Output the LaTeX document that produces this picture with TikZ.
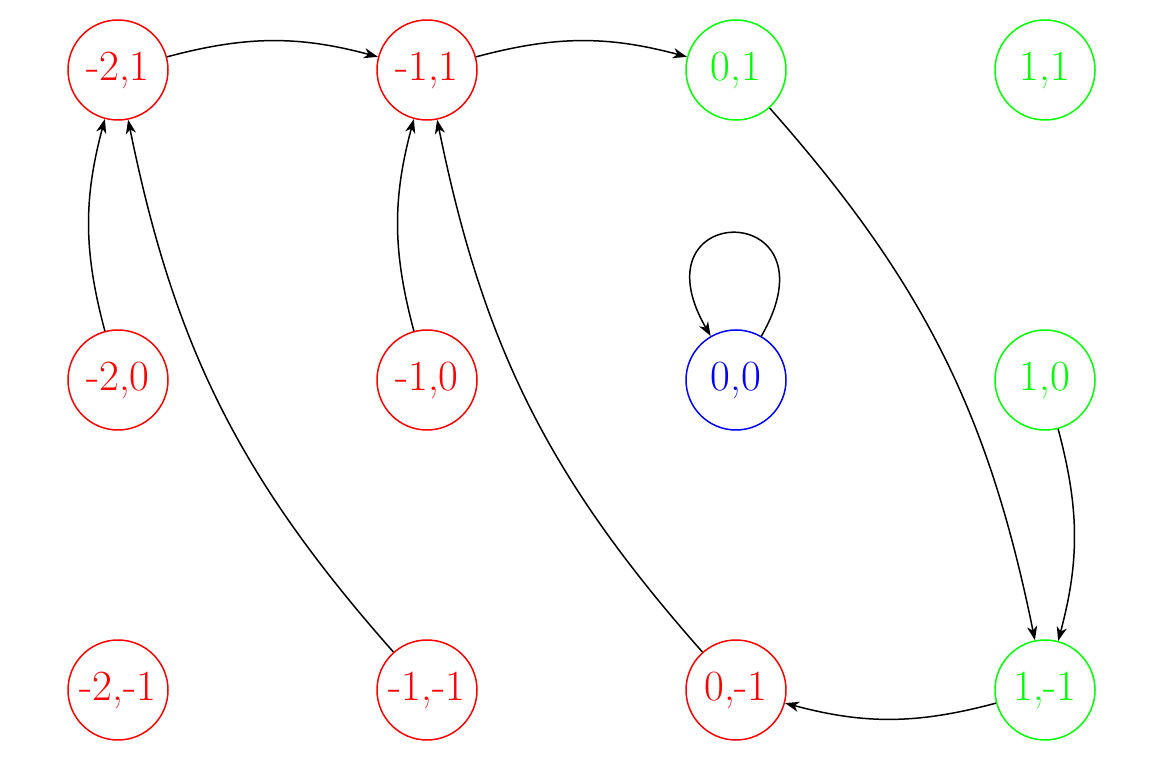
\documentclass[tikz,border=0pt]{standalone}
\usetikzlibrary{arrows.meta}
\begin{document}
\begin{tikzpicture}[
  line width=0.85pt,
  st/.style={circle, draw, minimum size=2cm, inner sep=0pt, font=\fontsize{24.5}{28}\selectfont},
  rs/.style={st, red, text=red},
  gs/.style={st, green, text=green},
  bs/.style={st, blue, text=blue},
  arr/.style={-{Stealth[length=8pt,width=5.8pt,inset=2.4pt]}, black}
]
\useasboundingbox (0,0) rectangle (23.1,15.36);
\node[rs] (m2p1) at (2.36,13.96) {-2,1};
\node[rs] (m1p1) at (8.54,13.96) {-1,1};
\node[gs] (z1)   at (14.72,13.96) {0,1};
\node[gs] (p1p1) at (20.9,13.96) {1,1};
\node[rs] (m2z)  at (2.36,7.76) {-2,0};
\node[rs] (m1z)  at (8.54,7.76) {-1,0};
\node[bs] (zz)   at (14.72,7.76) {0,0};
\node[gs] (p1z)  at (20.9,7.76) {1,0};
\node[rs] (m2m1) at (2.36,1.56) {-2,-1};
\node[rs] (m1m1) at (8.54,1.56) {-1,-1};
\node[rs] (zm1)  at (14.72,1.56) {0,-1};
\node[gs] (p1m1) at (20.9,1.56) {1,-1};

\draw[arr] (m2p1) to[bend left=15] (m1p1);
\draw[arr] (m1p1) to[bend left=15] (z1);
\draw[arr] (m2z) to[bend left=15] (m2p1);
\draw[arr] (m1m1) to[bend left=15] (m2p1);
\draw[arr] (m1z) to[bend left=15] (m1p1);
\draw[arr] (zm1) to[bend left=15] (m1p1);
\draw[arr] (zz) to[out=60,in=120,looseness=8] (zz);
\draw[arr] (z1) to[bend left=15] (p1m1);
\draw[arr] (p1z) to[bend left=15] (p1m1);
\draw[arr] (p1m1) to[bend left=15] (zm1);
\end{tikzpicture}
\end{document}
